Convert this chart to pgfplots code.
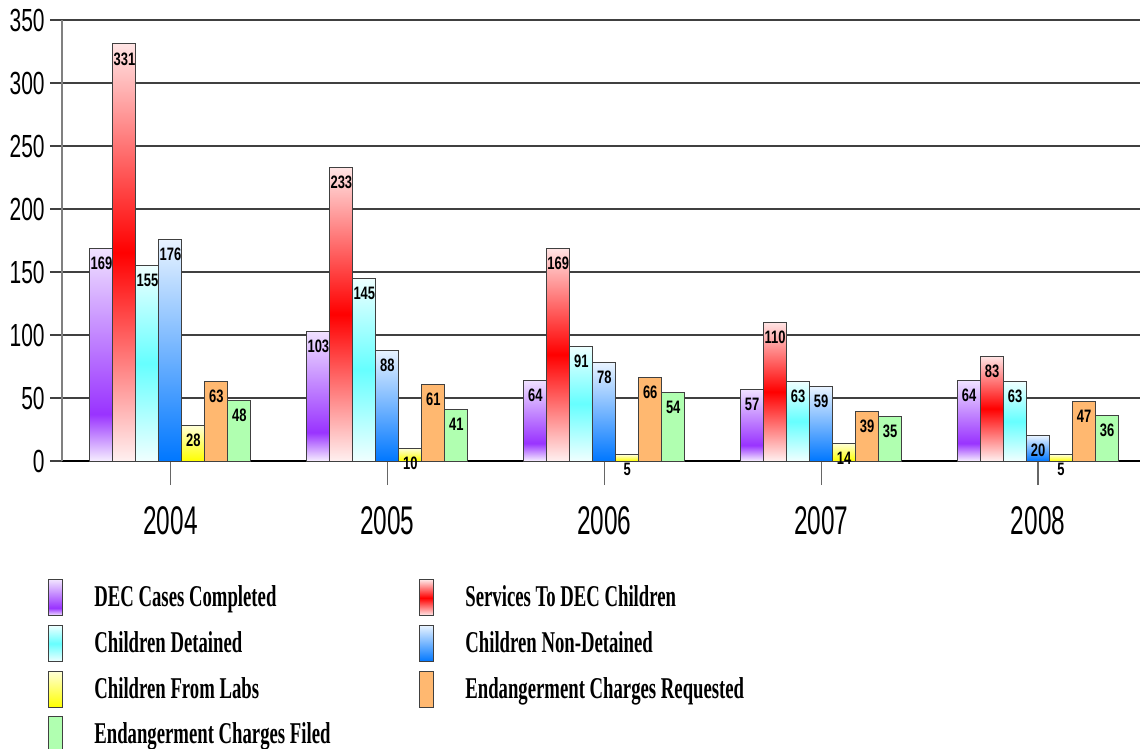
\documentclass[border=0pt]{standalone}
\usepackage{pgfplots}
\pgfplotsset{compat=1.18}
\usepackage{fontspec}
\setmainfont{Liberation Serif}
\newfontfamily\ysans[FakeStretch=0.655]{Liberation Sans}
\newfontfamily\xsans[FakeStretch=0.61]{Liberation Sans}
\newfontfamily\lsans[FakeStretch=0.72]{Liberation Sans}
\newfontfamily\nserif[FakeStretch=0.62]{Liberation Serif}

\definecolor{pBot}{HTML}{F6EEFF}
\definecolor{pMid}{HTML}{9933FF}
\definecolor{pTop}{HTML}{F0E2FF}
\definecolor{rBot}{HTML}{FFF0F0}
\definecolor{rMid}{HTML}{FF0000}
\definecolor{rTop}{HTML}{FFE4E4}
\definecolor{cBot}{HTML}{F0FFFF}
\definecolor{cMid}{HTML}{66FFFF}
\definecolor{cTop}{HTML}{EEFFFF}
\definecolor{bBot}{HTML}{0077FF}
\definecolor{bTop}{HTML}{E8F3FF}
\definecolor{yBot}{HTML}{FFFF00}
\definecolor{yTop}{HTML}{FFFFD8}
\definecolor{oCol}{HTML}{FFB870}
\definecolor{gCol}{HTML}{B0FFB0}
\definecolor{edge}{HTML}{404040}
\definecolor{gridc}{HTML}{404040}

\pgfdeclareverticalshading{purpsh}{100bp}{color(0bp)=(pBot); color(25bp)=(pBot); color(36bp)=(pMid); color(75bp)=(pTop); color(100bp)=(pTop)}
\pgfdeclareverticalshading{redsh}{100bp}{color(0bp)=(rBot); color(25bp)=(rBot); color(50bp)=(rMid); color(75bp)=(rTop); color(100bp)=(rTop)}
\pgfdeclareverticalshading{cyansh}{100bp}{color(0bp)=(cBot); color(25bp)=(cBot); color(50bp)=(cMid); color(75bp)=(cTop); color(100bp)=(cTop)}
\pgfdeclareverticalshading{bluesh}{100bp}{color(0bp)=(bBot); color(25bp)=(bBot); color(75bp)=(bTop); color(100bp)=(bTop)}
\pgfdeclareverticalshading{yelsh}{100bp}{color(0bp)=(yBot); color(25bp)=(yBot); color(75bp)=(yTop); color(100bp)=(yTop)}

\pgfplotsset{
  barbase/.style={ybar, bar width=0.106, draw=edge, line width=0.5pt,
    legend image code/.code={\draw[##1] (0pt,-9pt) rectangle (7pt,9pt);}},
  sP/.style={barbase, bar shift=-0.318, shade, shading=purpsh,
    every node near coord/.append style={xshift=-34.49pt}},
  sR/.style={barbase, bar shift=-0.212, shade, shading=redsh,
    every node near coord/.append style={xshift=-22.99pt}},
  sC/.style={barbase, bar shift=-0.106, shade, shading=cyansh,
    every node near coord/.append style={xshift=-11.50pt}},
  sB/.style={barbase, bar shift=0, shade, shading=bluesh},
  sY/.style={barbase, bar shift=0.106, shade, shading=yelsh,
    every node near coord/.append style={xshift=11.50pt}},
  sO/.style={barbase, bar shift=0.212, fill=oCol,
    every node near coord/.append style={xshift=22.99pt}},
  sG/.style={barbase, bar shift=0.318, fill=gCol,
    every node near coord/.append style={xshift=34.49pt}},
}

\begin{document}
\begin{tikzpicture}
\begin{axis}[
  scale only axis,
  width=539pt, height=220.5pt,
  xmin=-0.5, xmax=4.47,
  ymin=0, ymax=350,
  axis x line=bottom,
  axis y line=left,
  x axis line style={-, draw=black, line width=0.8pt},
  y axis line style={-, draw=gray, line width=0.8pt},
  xtick={0,1,2,3,4},
  xticklabels={2004,2005,2006,2007,2008},
  ytick={0,50,100,150,200,250,300,350},
  tick align=outside,
  major tick length=6pt,
  x tick style={draw=gray!80!black, line width=0.6pt, /pgfplots/major tick length=12pt},
  y tick style={draw=gridc, line width=0.7pt},
  ymajorgrids,
  major grid style={draw=gridc, line width=0.7pt},
  /pgf/number format/assume math mode=true,
  yticklabel style={font=\ysans\fontsize{16}{18}\selectfont, inner sep=0pt, xshift=-2.5pt},
  xticklabel style={font=\xsans\fontsize{20}{22}\selectfont, inner sep=0pt, yshift=-16.5pt},
  nodes near coords,
  every node near coord/.append style={font=\lsans\bfseries\fontsize{9}{10}\selectfont, anchor=north, inner sep=0pt, yshift=-4pt, black},
  legend columns=2,
  legend cell align=left,
  legend style={draw=none, fill=none, at={(0,0)}, anchor=north west, xshift=-7pt, yshift=-59pt,
    inner sep=0pt, nodes={inner sep=0pt},
    font=\nserif\bfseries\fontsize{15.1}{18}\selectfont,
    row sep=4.3pt,
    /tikz/every odd column/.append style={column sep=15.5pt},
    /tikz/every even column/.append style={column sep=12.5pt}},
  clip=false,
]
% 2004 (with legend entries)
\addplot[sP] coordinates {(0,169)}; \addlegendentry{\makebox[150pt][l]{DEC Cases Completed}}
\addplot[sR] coordinates {(0,331)}; \addlegendentry{Services To DEC Children}
\addplot[sC] coordinates {(0,155)}; \addlegendentry{\makebox[150pt][l]{Children Detained}}
\addplot[sB] coordinates {(0,176)}; \addlegendentry{Children Non-Detained}
\addplot[sY] coordinates {(0,28)};  \addlegendentry{\makebox[150pt][l]{Children From Labs}}
\addplot[sO] coordinates {(0,63)};  \addlegendentry{Endangerment Charges Requested}
\addplot[sG] coordinates {(0,48)};  \addlegendentry{\makebox[150pt][l]{Endangerment Charges Filed}}
% 2005
\addplot[sP, forget plot] coordinates {(1,103)};
\addplot[sR, forget plot] coordinates {(1,233)};
\addplot[sC, forget plot] coordinates {(1,145)};
\addplot[sB, forget plot] coordinates {(1,88)};
\addplot[sY, forget plot] coordinates {(1,10)};
\addplot[sO, forget plot] coordinates {(1,61)};
\addplot[sG, forget plot] coordinates {(1,41)};
% 2006
\addplot[sP, forget plot] coordinates {(2,64)};
\addplot[sR, forget plot] coordinates {(2,169)};
\addplot[sC, forget plot] coordinates {(2,91)};
\addplot[sB, forget plot] coordinates {(2,78)};
\addplot[sY, forget plot] coordinates {(2,5)};
\addplot[sO, forget plot] coordinates {(2,66)};
\addplot[sG, forget plot] coordinates {(2,54)};
% 2007
\addplot[sP, forget plot] coordinates {(3,57)};
\addplot[sR, forget plot] coordinates {(3,110)};
\addplot[sC, forget plot] coordinates {(3,63)};
\addplot[sB, forget plot] coordinates {(3,59)};
\addplot[sY, forget plot] coordinates {(3,14)};
\addplot[sO, forget plot] coordinates {(3,39)};
\addplot[sG, forget plot] coordinates {(3,35)};
% 2008
\addplot[sP, forget plot] coordinates {(4,64)};
\addplot[sR, forget plot] coordinates {(4,83)};
\addplot[sC, forget plot] coordinates {(4,63)};
\addplot[sB, forget plot] coordinates {(4,20)};
\addplot[sY, forget plot] coordinates {(4,5)};
\addplot[sO, forget plot] coordinates {(4,47)};
\addplot[sG, forget plot] coordinates {(4,36)};
\end{axis}
\pgfresetboundingbox
\path (-31pt,-144pt) rectangle (539pt,230.5pt);
\end{tikzpicture}
\end{document}
